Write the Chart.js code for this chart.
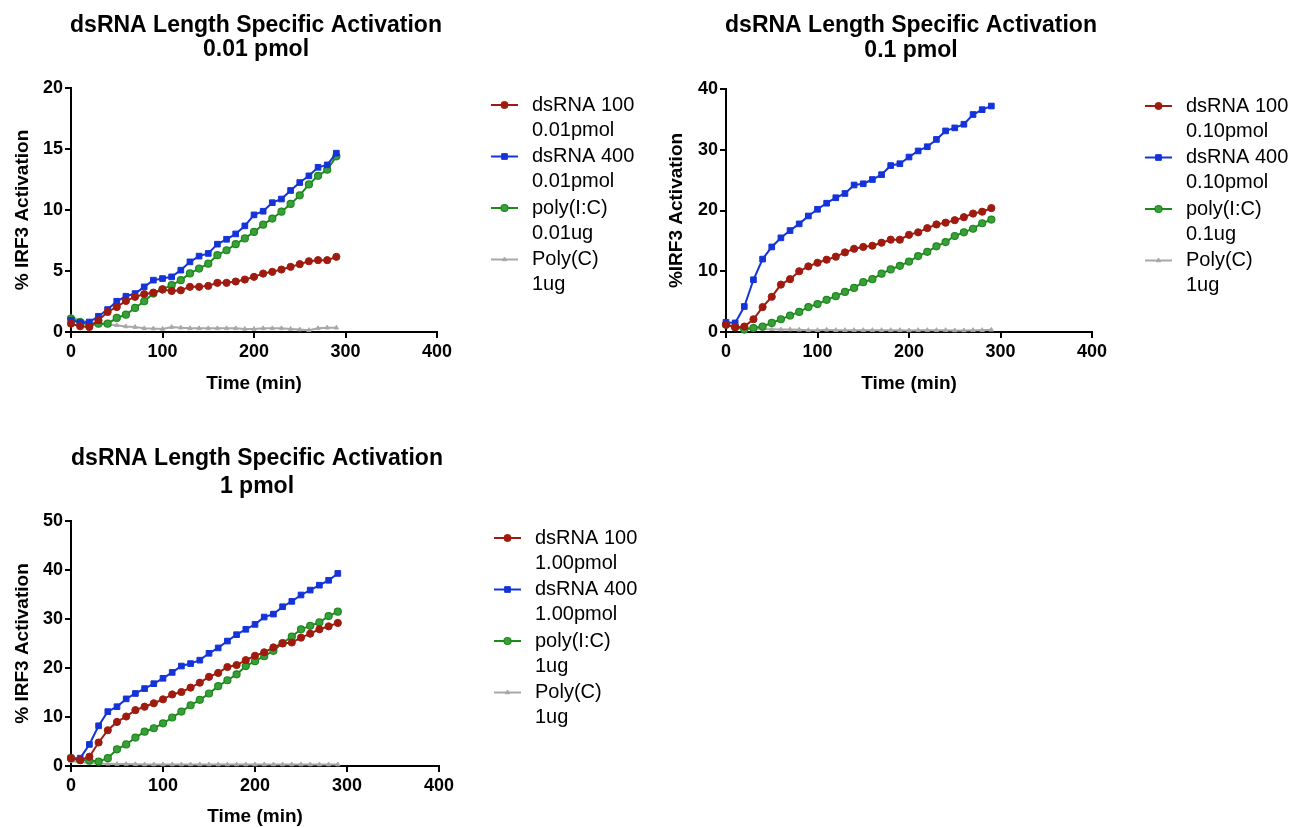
<!DOCTYPE html>
<html>
<head>
<meta charset="utf-8">
<title>dsRNA Length Specific Activation</title>
<script src="https://cdn.jsdelivr.net/npm/chart.js@4.4.1/dist/chart.umd.min.js"></script>
<style>
  body { margin: 0; background: #fff; }
  .wrap { position: relative; width: 1307px; height: 828px; }
  .wrap canvas { position: absolute; }
</style>
</head>
<body>
<div class="wrap">
  <canvas id="chart001" width="653" height="414" style="left:0;top:0;width:653px;height:414px"></canvas>
  <canvas id="chart01" width="653" height="414" style="left:654px;top:0;width:653px;height:414px"></canvas>
  <canvas id="chart1" width="653" height="414" style="left:0;top:414px;width:653px;height:414px"></canvas>
</div>
<script>
// time points (min)
const timeMin = [0, 10, 20, 30, 40, 50, 60, 70, 80, 90, 100, 110, 120, 130, 140,
  150, 160, 170, 180, 190, 200, 210, 220, 230, 240, 250, 260, 270, 280, 290];

// 0.01 pmol panel
const p001_ds100 = [0.68, 0.47, 0.41, 0.96, 1.64, 2.05, 2.55, 2.88, 3.1, 3.23, 3.48, 3.37, 3.42, 3.7, 3.7,
  3.78, 4.03, 4.03, 4.14, 4.3, 4.52, 4.79, 4.93, 5.12, 5.34, 5.56, 5.8, 5.89, 5.89, 6.16];
const p001_ds400 = [0.96, 0.77, 0.82, 1.29, 1.84, 2.52, 2.93, 3.15, 3.7, 4.25, 4.38, 4.52, 5.07, 5.75, 6.22,
  6.44, 7.2, 7.6, 8.04, 8.7, 9.6, 9.9, 10.6, 10.9, 11.6, 12.25, 12.8, 13.5, 13.7, 14.66];
const p001_polyIC = [1.1, 0.82, 0.55, 0.68, 0.68, 1.15, 1.42, 1.97, 2.52, 3.15, 3.5, 3.84, 4.25, 4.8, 5.2,
  5.6, 6.3, 6.7, 7.2, 7.67, 8.2, 8.8, 9.3, 9.86, 10.5, 11.2, 12.1, 12.8, 13.3, 14.4];
const p001_polyC = [1.23, 0.96, 0.82, 0.7, 0.6, 0.55, 0.45, 0.4, 0.3, 0.28, 0.25, 0.4, 0.35, 0.3, 0.3,
  0.3, 0.3, 0.3, 0.3, 0.25, 0.25, 0.3, 0.3, 0.3, 0.25, 0.2, 0.15, 0.3, 0.35, 0.35];

// 0.1 pmol panel
const p01_ds100 = [1.2, 0.8, 0.9, 2.1, 4.1, 5.8, 7.8, 8.7, 10.0, 10.8, 11.4, 11.9, 12.4, 13.1, 13.7,
  14.0, 14.2, 14.7, 15.2, 15.2, 16.0, 16.4, 17.1, 17.7, 18.0, 18.4, 18.9, 19.5, 19.8, 20.4];
const p01_ds400 = [1.6, 1.5, 4.2, 8.6, 12.0, 14.0, 15.5, 16.7, 17.8, 19.1, 20.2, 21.2, 22.1, 22.8, 24.2,
  24.4, 25.1, 25.9, 27.4, 27.7, 28.8, 29.8, 30.5, 31.7, 33.1, 33.6, 34.2, 35.8, 36.6, 37.2];
const p01_polyIC = [1.2, 0.8, 0.4, 0.65, 0.9, 1.5, 2.1, 2.7, 3.3, 4.1, 4.6, 5.3, 5.9, 6.6, 7.25,
  8.2, 8.7, 9.6, 10.3, 10.9, 11.6, 12.5, 13.2, 14.1, 14.8, 15.8, 16.4, 17.0, 17.9, 18.5];
const p01_polyC = [1.2, 0.9, 0.7, 0.6, 0.5, 0.45, 0.4, 0.4, 0.35, 0.3, 0.3, 0.35, 0.3, 0.3, 0.3,
  0.3, 0.3, 0.3, 0.3, 0.3, 0.25, 0.3, 0.3, 0.3, 0.3, 0.25, 0.25, 0.3, 0.3, 0.35];

// 1 pmol panel
const p1_ds100 = [1.6, 1.2, 1.9, 4.8, 7.3, 9.0, 10.1, 11.4, 12.1, 12.8, 13.6, 14.6, 15.1, 16.0, 17.0,
  18.2, 19.0, 20.2, 20.6, 21.6, 22.5, 23.2, 24.2, 25.0, 25.2, 26.2, 27.0, 27.9, 28.5, 29.2];
const p1_ds400 = [1.6, 1.6, 4.4, 8.2, 11.1, 12.1, 13.7, 14.8, 15.8, 16.8, 17.9, 19.1, 20.4, 20.9, 21.6,
  23.0, 24.1, 25.5, 26.8, 27.9, 28.9, 30.4, 31.0, 32.5, 33.6, 34.9, 35.9, 36.9, 37.9, 39.3];
const p1_polyIC = [1.6, 1.2, 1.1, 0.9, 1.6, 3.4, 4.4, 5.8, 7.0, 7.7, 8.7, 9.9, 11.1, 12.4, 13.5,
  14.8, 16.3, 17.5, 18.7, 20.4, 21.4, 22.4, 23.5, 25.1, 26.4, 27.9, 28.6, 29.3, 30.6, 31.5];
const p1_polyC = [1.0, 0.8, 0.6, 0.5, 0.45, 0.4, 0.4, 0.35, 0.3, 0.3, 0.3, 0.3, 0.3, 0.3, 0.3,
  0.3, 0.3, 0.3, 0.3, 0.3, 0.3, 0.3, 0.3, 0.3, 0.3, 0.3, 0.3, 0.3, 0.3, 0.3];

// legend texts
const legend001 = [['dsRNA 100', '0.01pmol'], ['dsRNA 400', '0.01pmol'], ['poly(I:C)', '0.01ug'], ['Poly(C)', '1ug']];
const legend01 = [['dsRNA 100', '0.10pmol'], ['dsRNA 400', '0.10pmol'], ['poly(I:C)', '0.1ug'], ['Poly(C)', '1ug']];
const legend1 = [['dsRNA 100', '1.00pmol'], ['dsRNA 400', '1.00pmol'], ['poly(I:C)', '1ug'], ['Poly(C)', '1ug']];

const FONT = "'Liberation Sans', Arial, Helvetica, sans-serif";

// series look, in legend order
const seriesStyle = [
  { color: '#9f1b0f', fill: '#9f1b0f', pointStyle: 'circle', radius: 3.6, bw: 1 },
  { color: '#1434d9', fill: '#1434d9', pointStyle: 'rect', radius: 4, bw: 1 },
  { color: '#1b8a1b', fill: '#3a9f3a', pointStyle: 'circle', radius: 3.5, bw: 1.2 },
  { color: '#a8a8a8', fill: '#a8a8a8', pointStyle: 'triangle', radius: 2.5, bw: 1 }
];

function drawMarker(ctx, style, x, y) {
  ctx.fillStyle = style.fill;
  ctx.strokeStyle = style.color;
  ctx.lineWidth = style.bw;
  const r = style.radius;
  ctx.beginPath();
  if (style.pointStyle === 'rect') {
    const s = r * Math.SQRT1_2;
    ctx.rect(x - s, y - s, 2 * s, 2 * s);
  } else if (style.pointStyle === 'triangle') {
    ctx.moveTo(x, y - r);
    ctx.lineTo(x + r * 0.866, y + r / 2);
    ctx.lineTo(x - r * 0.866, y + r / 2);
    ctx.closePath();
  } else {
    ctx.arc(x, y, r, 0, Math.PI * 2);
  }
  ctx.fill();
  ctx.stroke();
}

// title over the plot area + prism style legend on the right
const panelDecor = {
  id: 'panelDecor',
  afterDraw(chart, args, opts) {
    const ctx = chart.ctx, area = chart.chartArea;
    ctx.save();
    ctx.fillStyle = '#000';
    ctx.textAlign = 'center';
    ctx.textBaseline = 'middle';
    ctx.font = 'bold 23px ' + FONT;
    const cx = (area.left + area.right) / 2 + 2;
    opts.title.forEach((t, i) => ctx.fillText(t, cx, opts.titleY[i]));

    ctx.textAlign = 'left';
    ctx.font = '20px ' + FONT;
    chart.data.datasets.forEach((ds, i) => {
      const st = seriesStyle[i];
      const y = opts.legendY + i * 51.5;
      ctx.strokeStyle = st.color;
      ctx.lineWidth = 2;
      ctx.beginPath();
      ctx.moveTo(opts.legendX, y);
      ctx.lineTo(opts.legendX + 27, y);
      ctx.stroke();
      drawMarker(ctx, st, opts.legendX + 13.5, y);
      ctx.fillStyle = '#000';
      ds.legendLines.forEach((line, j) => ctx.fillText(line, opts.legendX + 41, y + j * 25));
    });
    ctx.restore();
  }
};

function makePanel(id, series, legendText, cfg) {
  const ctx = document.getElementById(id).getContext('2d');
  const W = 653, H = 414;
  const datasets = series.map((vals, i) => {
    const st = seriesStyle[i];
    return {
      label: legendText[i].join(' '),
      legendLines: legendText[i],
      data: vals.map((v, k) => ({ x: timeMin[k], y: v })),
      borderColor: st.color,
      backgroundColor: st.fill,
      pointBorderColor: st.color,
      pointBackgroundColor: st.fill,
      pointStyle: st.pointStyle,
      pointRadius: st.radius,
      pointBorderWidth: st.bw,
      borderWidth: 2,
      tension: 0,
      clip: false
    };
  });
  return new Chart(ctx, {
    type: 'line',
    data: { datasets: datasets },
    options: {
      responsive: false,
      animation: false,
      events: [],
      layout: {
        padding: {
          left: 0,
          top: cfg.area.top,
          right: W - cfg.area.right,
          bottom: H - cfg.area.bottom - cfg.xHeight
        }
      },
      scales: {
        x: {
          type: 'linear',
          min: 0, max: 400,
          afterFit: (s) => { s.height = cfg.xHeight; },
          ticks: { stepSize: 100, color: '#000', padding: 3, font: { family: FONT, size: 18, weight: 'bold' } },
          grid: { drawOnChartArea: false, drawTicks: true, tickLength: 6, color: '#000', lineWidth: 2 },
          border: { display: true, color: '#000', width: 2 },
          title: { display: true, text: 'Time (min)', color: '#000', padding: { top: 0, bottom: 0 },
            font: { family: FONT, size: 19, weight: 'bold' } }
        },
        y: {
          min: 0, max: cfg.yMax,
          afterFit: (s) => { s.width = cfg.area.left; },
          ticks: { stepSize: cfg.yStep, color: '#000', padding: 2, font: { family: FONT, size: 18, weight: 'bold' } },
          grid: { drawOnChartArea: false, drawTicks: true, tickLength: 6, color: '#000', lineWidth: 2 },
          border: { display: true, color: '#000', width: 2 },
          title: { display: true, text: cfg.yTitle, color: '#000', padding: { top: 11, bottom: 0 },
            font: { family: FONT, size: 19, weight: 'bold' } }
        }
      },
      plugins: {
        legend: { display: false },
        tooltip: { enabled: false },
        title: { display: false },
        panelDecor: {
          title: cfg.title,
          titleY: cfg.titleY,
          legendX: cfg.legendX,
          legendY: cfg.legendY
        }
      }
    },
    plugins: [panelDecor]
  });
}

document.addEventListener('DOMContentLoaded', function () {
  makePanel('chart001', [p001_ds100, p001_ds400, p001_polyIC, p001_polyC], legend001, {
    area: { left: 71, top: 88, right: 437, bottom: 332 },
    xHeight: 63, yMax: 20, yStep: 5, yTitle: '% IRF3 Activation',
    title: ['dsRNA Length Specific Activation', '0.01 pmol'], titleY: [26, 50],
    legendX: 491, legendY: 105
  });
  makePanel('chart01', [p01_ds100, p01_ds400, p01_polyIC, p01_polyC], legend01, {
    area: { left: 72, top: 89, right: 438, bottom: 332 },
    xHeight: 63, yMax: 40, yStep: 10, yTitle: '%IRF3 Activation',
    title: ['dsRNA Length Specific Activation', '0.1 pmol'], titleY: [26, 51],
    legendX: 491, legendY: 106
  });
  makePanel('chart1', [p1_ds100, p1_ds400, p1_polyIC, p1_polyC], legend1, {
    area: { left: 71, top: 107, right: 439, bottom: 352 },
    xHeight: 62, yMax: 50, yStep: 10, yTitle: '% IRF3 Activation',
    title: ['dsRNA Length Specific Activation', '1 pmol'], titleY: [45, 73],
    legendX: 494, legendY: 124
  });
});
</script>
</body>
</html>
